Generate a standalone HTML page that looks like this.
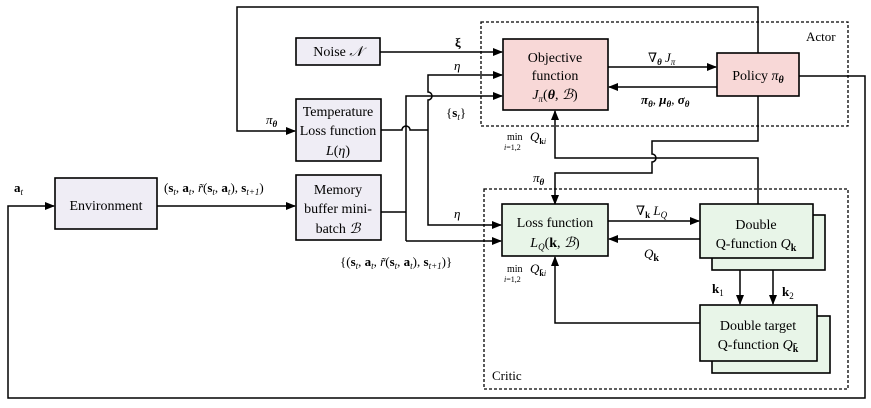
<!DOCTYPE html>
<html><head><meta charset="utf-8"><style>
html,body{margin:0;padding:0;background:#fff}
svg{display:block}
svg, svg text, svg tspan{font-family:"Liberation Serif","DejaVu Serif",serif !important}
</style></head><body>
<svg width="871" height="408" viewBox="0 0 871 408" xmlns="http://www.w3.org/2000/svg" font-family="Liberation Serif, DejaVu Serif, serif">
<defs>
<marker id="a" markerWidth="10" markerHeight="8" refX="9" refY="4" orient="auto" markerUnits="userSpaceOnUse">
<path d="M0,0 L10,4 L0,8 z" fill="#000"/></marker>
</defs>
<g fill="none" stroke="#000" stroke-width="1.3" stroke-dasharray="3,2">
<rect x="481" y="22" width="367" height="104"/>
<rect x="484" y="189" width="364" height="200"/>
</g>
<g stroke="#000" stroke-width="1.6">
<rect x="55" y="178" width="102" height="51" fill="#efedf5"/>
<rect x="296" y="38" width="84" height="27" fill="#efedf5"/>
<rect x="296" y="99" width="85" height="62" fill="#efedf5"/>
<rect x="296" y="175" width="85" height="65" fill="#efedf5"/>
<rect x="503" y="39" width="105" height="71" fill="#f8d8d7"/>
<rect x="717" y="53" width="82" height="43" fill="#f8d8d7"/>
<rect x="502" y="204" width="106" height="52" fill="#e8f5e8"/>
<rect x="712" y="215" width="113" height="55" fill="#e8f5e8"/>
<rect x="700" y="204" width="113" height="54" fill="#e8f5e8"/>
<rect x="712" y="316" width="118" height="57" fill="#e8f5e8"/>
<rect x="700" y="305" width="117" height="56" fill="#e8f5e8"/>
</g>
<g fill="none" stroke="#000" stroke-width="1.5">
<path d="M758,53 V7 H237 V131 H295" marker-end="url(#a)"/>
<path d="M380,52 H502" marker-end="url(#a)"/>
<path d="M428,221 V100 a4,4 0 0 0 0,-8 V75 H502" marker-end="url(#a)"/>
<path d="M406,241 V96 H502" marker-end="url(#a)"/>
<path d="M381,130 H402 a4,4 0 0 1 8,0 H428"/>
<path d="M428,221 V225 H501" marker-end="url(#a)"/>
<path d="M381,212 H406"/>
<path d="M406,241 H501" marker-end="url(#a)"/>
<path d="M157,206 H295" marker-end="url(#a)"/>
<path d="M799,76 H865 V398 H8 V206 H54" marker-end="url(#a)"/>
<path d="M608,67 H716" marker-end="url(#a)"/>
<path d="M717,87 H609" marker-end="url(#a)"/>
<path d="M758,96 V141 H652 V154 a4,4 0 0 1 0,8 V173 H555 V204" marker-end="url(#a)"/>
<path d="M758,204 V158 H555 V111" marker-end="url(#a)"/>
<path d="M608,221 H699" marker-end="url(#a)"/>
<path d="M700,239 H609" marker-end="url(#a)"/>
<path d="M740,270 V304" marker-end="url(#a)"/>
<path d="M773,270 V304" marker-end="url(#a)"/>
<path d="M700,323 H555 V257" marker-end="url(#a)"/>
</g>
<g font-size="14" text-anchor="middle">
<text x="106" y="210">Environment</text>
<text x="338" y="56">Noise <tspan font-style="italic">𝒩</tspan></text>
<text x="338" y="116">Temperature</text>
<text x="338" y="135">Loss function</text>
<text x="338" y="155"><tspan font-style="italic">L</tspan>(<tspan font-style="italic">η</tspan>)</text>
<text x="338" y="194">Memory</text>
<text x="338" y="213">buffer mini-</text>
<text x="338" y="233">batch <tspan font-style="italic">ℬ</tspan></text>
<text x="555" y="62">Objective</text>
<text x="555" y="80">function</text>
<text x="555" y="99"><tspan font-style="italic">J</tspan><tspan font-size="9" font-style="italic" dy="3">π</tspan><tspan dy="-3">(</tspan><tspan font-weight="bold" font-style="italic">θ</tspan>, <tspan font-style="italic">ℬ</tspan>)</text>
<text x="758" y="80">Policy <tspan font-style="italic">π</tspan><tspan font-size="10" font-weight="bold" font-style="italic" dy="3">θ</tspan></text>
<text x="555" y="227">Loss function</text>
<text x="555" y="247"><tspan font-style="italic">L</tspan><tspan font-size="9" font-style="italic" dy="3">Q</tspan><tspan dy="-3">(</tspan><tspan font-weight="bold">k</tspan>, <tspan font-style="italic">ℬ</tspan>)</text>
<text x="756" y="229">Double</text>
<text x="756" y="248">Q-function <tspan font-style="italic">Q</tspan><tspan font-size="10" font-weight="bold" dy="3">k</tspan></text>
<text x="758" y="330">Double target</text>
<text x="758" y="349">Q-function <tspan font-style="italic">Q</tspan><tspan font-size="10" font-weight="bold" dy="3">k̄</tspan></text>
</g>
<g font-size="13">
<text x="806" y="41">Actor</text>
<text x="492" y="380">Critic</text>
<text x="14" y="192" font-weight="bold">a<tspan font-size="9" font-style="italic" font-weight="normal" dy="3">t</tspan></text>
<text x="164" y="192">(<tspan font-weight="bold">s</tspan><tspan font-size="9" font-style="italic" dy="3">t</tspan><tspan dy="-3">, </tspan><tspan font-weight="bold">a</tspan><tspan font-size="9" font-style="italic" dy="3">t</tspan><tspan dy="-3">, </tspan><tspan font-style="italic">r̃</tspan>(<tspan font-weight="bold">s</tspan><tspan font-size="9" font-style="italic" dy="3">t</tspan><tspan dy="-3">, </tspan><tspan font-weight="bold">a</tspan><tspan font-size="9" font-style="italic" dy="3">t</tspan><tspan dy="-3">), </tspan><tspan font-weight="bold">s</tspan><tspan font-size="9" font-style="italic" dy="3">t+1</tspan><tspan dy="-3">)</tspan></text>
<text x="340" y="266">{(<tspan font-weight="bold">s</tspan><tspan font-size="9" font-style="italic" dy="3">t</tspan><tspan dy="-3">, </tspan><tspan font-weight="bold">a</tspan><tspan font-size="9" font-style="italic" dy="3">t</tspan><tspan dy="-3">, </tspan><tspan font-style="italic">r̃</tspan>(<tspan font-weight="bold">s</tspan><tspan font-size="9" font-style="italic" dy="3">t</tspan><tspan dy="-3">, </tspan><tspan font-weight="bold">a</tspan><tspan font-size="9" font-style="italic" dy="3">t</tspan><tspan dy="-3">), </tspan><tspan font-weight="bold">s</tspan><tspan font-size="9" font-style="italic" dy="3">t+1</tspan><tspan dy="-3">)}</tspan></text>
<text x="455" y="47" font-weight="bold">ξ</text>
<text x="454" y="70" font-style="italic">η</text>
<text x="454" y="218" font-style="italic">η</text>
<text x="446" y="117">{<tspan font-weight="bold">s</tspan><tspan font-size="9" font-style="italic" dy="3">t</tspan><tspan dy="-3">}</tspan></text>
<text x="266" y="124" font-style="italic">π<tspan font-size="9" font-weight="bold" dy="3">θ</tspan></text>
<text x="533" y="182" font-style="italic">π<tspan font-size="9" font-weight="bold" dy="3">θ</tspan></text>
<text x="648" y="62">∇<tspan font-size="9" font-weight="bold" font-style="italic" dy="3">θ</tspan><tspan dy="-3" font-style="italic"> J</tspan><tspan font-size="9" font-style="italic" dy="3">π</tspan></text>
<text x="641" y="104" font-style="italic" font-weight="bold">π<tspan font-size="9" dy="3">θ</tspan><tspan dy="-3" font-weight="normal" font-style="normal">, </tspan>μ<tspan font-size="9" dy="3">θ</tspan><tspan dy="-3" font-weight="normal" font-style="normal">, </tspan>σ<tspan font-size="9" dy="3">θ</tspan></text>
<text x="636" y="215">∇<tspan font-size="9" font-weight="bold" dy="3">k</tspan><tspan dy="-3" font-style="italic"> L</tspan><tspan font-size="9" font-style="italic" dy="3">Q</tspan></text>
<text x="644" y="258" font-style="italic">Q<tspan font-size="10" font-weight="bold" font-style="normal" dy="3">k</tspan></text>
<text x="712" y="293" font-weight="bold">k<tspan font-size="9" font-weight="normal" dy="3">1</tspan></text>
<text x="782" y="296" font-weight="bold">k<tspan font-size="9" font-weight="normal" dy="3">2</tspan></text>
<text x="507" y="140" font-size="10">min</text><text x="530" y="141" font-style="italic">Q<tspan font-size="8" font-weight="bold" font-style="normal" dy="3">k<tspan font-style="italic" font-weight="normal">i</tspan></tspan></text>
<text x="504" y="150" font-size="8" font-style="italic">i<tspan font-style="normal">=1,2</tspan></text>
<text x="507" y="272" font-size="10">min</text><text x="530" y="273" font-style="italic">Q<tspan font-size="8" font-weight="bold" font-style="normal" dy="3">k̄<tspan font-style="italic" font-weight="normal">i</tspan></tspan></text>
<text x="504" y="282" font-size="8" font-style="italic">i<tspan font-style="normal">=1,2</tspan></text>
</g>
</svg>
</body></html>
